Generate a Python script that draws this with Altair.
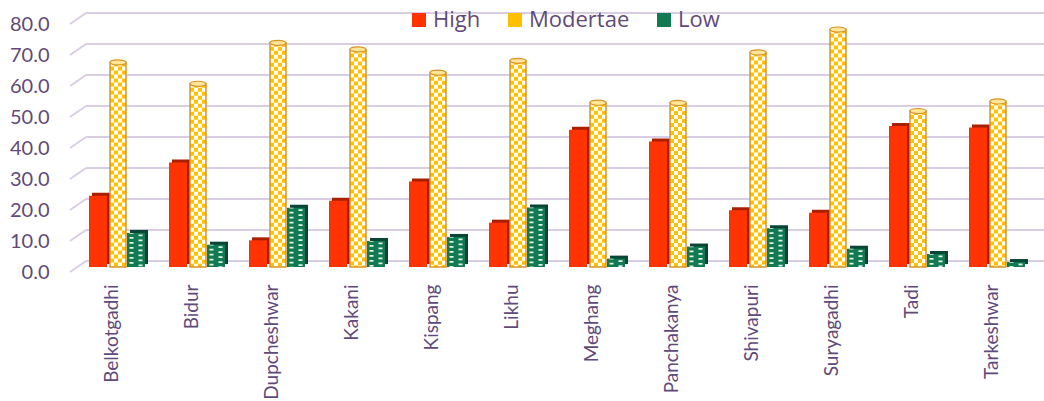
import altair as alt
import pandas as pd

# Share of households (%) in each rating class, by municipality
names = ["Belkotgadhi", "Bidur", "Dupcheshwar", "Kakani", "Kispang", "Likhu",
         "Meghang", "Panchakanya", "Shivapuri", "Suryagadhi", "Tadi", "Tarkeshwar"]
high = [23.0, 33.7, 8.6, 21.4, 27.6, 14.3, 44.3, 40.5, 18.3, 17.5, 45.5, 45.0]
moderate = [66.0, 59.1, 72.3, 70.2, 62.7, 66.5, 53.0, 52.9, 69.2, 76.6, 50.3, 53.4]
low = [11.0, 7.2, 19.1, 8.4, 9.7, 19.2, 2.7, 6.6, 12.5, 5.9, 4.2, 1.6]
series = ["High", "Modertae", "Low"]
ticks = [0, 10, 20, 30, 40, 50, 60, 70, 80]

PURPLE = "#5f4a7a"
RED, RED_DARK = "#ff3300", "#a82000"
GOLD, GOLD_EDGE = "#ffc000", "#d9952a"
GREEN, GREEN_DARK = "#107a52", "#0b4535"
GRID = "#d9cde3"
FONT = "Lato"

rows = []
for i, n in enumerate(names):
    rows.append({"name": n, "series": "High", "value": high[i]})
    rows.append({"name": n, "series": "Modertae", "value": moderate[i]})
    rows.append({"name": n, "series": "Low", "value": low[i]})
df = pd.DataFrame(rows)
tick_df = pd.DataFrame({"tick": ticks})

W, H = 960, 248

x_enc = alt.X("name:N", sort=names, title=None,
              scale=alt.Scale(paddingInner=0, paddingOuter=0),
              axis=alt.Axis(labelAngle=270, labelFontSize=19, labelFont=FONT,
                            labelColor=PURPLE, labelPadding=17, labelOffset=-6,
                            domain=False, ticks=False, grid=False))
y_scale = alt.Scale(domain=[0, 80], nice=False, zero=True)
y_axis = alt.Axis(values=ticks, format=".1f", labelFontSize=20,
                  labelFont=FONT, labelColor=PURPLE, labelPadding=29,
                  labelOffset=5, domain=False, ticks=False, grid=False)
y_enc = alt.Y("value:Q", scale=y_scale, title=None, axis=y_axis)
color_enc = alt.Color("series:N", title=None,
                      scale=alt.Scale(domain=series, range=[RED, GOLD, GREEN]),
                      legend=alt.Legend(orient="none", legendX=330, legendY=-10,
                                        direction="horizontal", symbolType="square",
                                        symbolSize=196, symbolStrokeWidth=0,
                                        labelFontSize=22, labelFont="Open Sans",
                                        labelColor=PURPLE, labelOffset=3,
                                        columnPadding=23))

base = alt.Chart(df).encode(x=x_enc, y=y_enc)

# gridlines on the back wall, with the slanted floor edge at the left
grid_back = alt.Chart(tick_df).mark_rule(color=GRID, strokeWidth=2, yOffset=-6).encode(
    x=alt.value(8), x2=alt.value(W + 10),
    y=alt.Y("tick:Q", scale=y_scale, title=None, axis=y_axis))
grid_side = alt.Chart(tick_df).mark_rule(color=GRID, strokeWidth=2, yOffset=5,
                                         y2Offset=-6).encode(
    x=alt.value(-8), x2=alt.value(8),
    y=alt.Y("tick:Q", scale=y_scale, title=None, axis=y_axis),
    y2=alt.Y2("tick:Q"))

hi = base.transform_filter(alt.datum.series == "High")
md = base.transform_filter(alt.datum.series == "Modertae")
lo = base.transform_filter(alt.datum.series == "Low")

# High: solid block with shaded side and top
hi_side = hi.mark_bar(width=18, xOffset=-17, yOffset=-3, y2Offset=-3, color=RED_DARK)
hi_front = hi.mark_bar(width=18, xOffset=-20).encode(color=color_enc)

# Modertae: checkered cylinder
md_body = md.mark_bar(width=16, xOffset=0).encode(color=color_enc)
md_checks = [
    md.mark_rule(color="white", strokeWidth=4, xOffset=off, strokeDash=[4, 4],
                 strokeDashOffset=dash).encode(y2=alt.datum(0))
    for off, dash in [(-6, 0), (-2, 4), (2, 0), (6, 4)]
]
md_edge = md.mark_bar(width=16, xOffset=0, fillOpacity=0, stroke=GOLD_EDGE,
                      strokeWidth=1.5)
md_cap = md.mark_point(shape="M -1 0 A 1 0.32 0 1 0 1 0 A 1 0.32 0 1 0 -1 0 Z",
                       size=256, filled=True, fill="#ffe699", stroke=GOLD_EDGE,
                       strokeWidth=1.2, opacity=1)

# Low: dashed green block with shaded side and top
lo_side = lo.mark_bar(width=18, xOffset=21, yOffset=-3, y2Offset=-3, color=GREEN_DARK)
lo_front = lo.mark_bar(width=18, xOffset=18).encode(color=color_enc)
lo_dashes = [
    lo.mark_rule(color="white", strokeWidth=4, xOffset=off, strokeDash=[1.8, 3.2],
                 strokeDashOffset=dash, opacity=0.9).encode(y2=alt.datum(0))
    for off, dash in [(13.5, 1), (22.5, 3.5)]
]

chart = alt.layer(
    grid_back, grid_side,
    hi_side, hi_front,
    md_body, *md_checks, md_edge, md_cap,
    lo_side, lo_front, *lo_dashes,
).properties(
    width=W, height=H,
    background="white",
    autosize=alt.AutoSizeParams(type="none"),
    padding={"left": 78, "top": 19, "right": 6, "bottom": 134},
).configure_view(stroke=None)

chart.save("out.html", embed_options={"renderer": "svg", "actions": False})
